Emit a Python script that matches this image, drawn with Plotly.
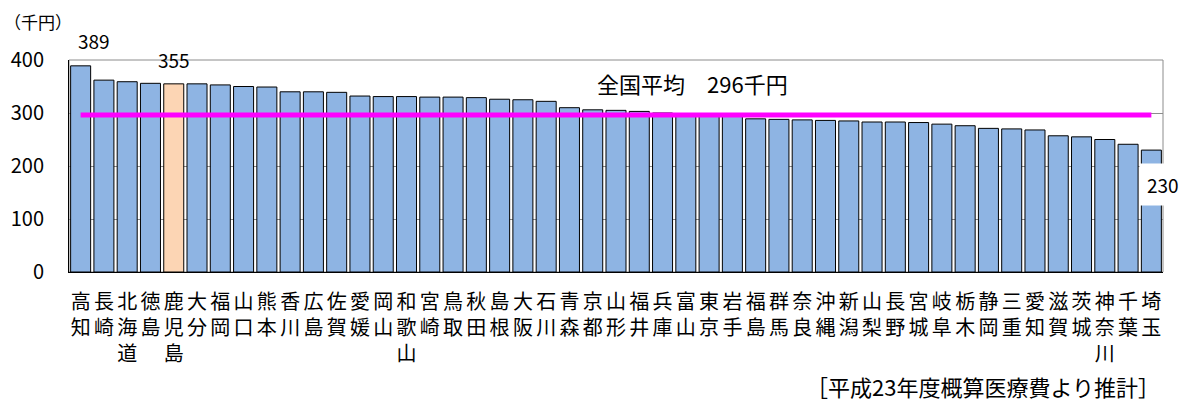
import plotly.graph_objects as go

prefectures = ["高知", "長崎", "北海道", "徳島", "鹿児島", "大分", "福岡", "山口", "熊本", "香川",
               "広島", "佐賀", "愛媛", "岡山", "和歌山", "宮崎", "鳥取", "秋田", "島根", "大阪",
               "石川", "青森", "京都", "山形", "福井", "兵庫", "富山", "東京", "岩手", "福島",
               "群馬", "奈良", "沖縄", "新潟", "山梨", "長野", "宮城", "岐阜", "栃木", "静岡",
               "三重", "愛知", "滋賀", "茨城", "神奈川", "千葉", "埼玉"]
values = [389, 362, 359, 356, 355, 355, 353, 350, 349, 340,
          340, 339, 332, 331, 331, 330, 330, 329, 326, 325,
          322, 310, 306, 305, 303, 300, 298, 296, 294, 289,
          288, 287, 286, 285, 283, 283, 282, 279, 276, 271,
          270, 268, 257, 255, 250, 241, 230]
highlight = "鹿児島"
national_avg = 296
y_ticks = [0, 100, 200, 300, 400]

FONT = "Noto Sans CJK JP"
W, H = 1184, 403
L, R, T, B = 69, 1163, 60, 272  # plot area in pixels

def px(x):
    return (x - L) / (R - L)

def py(y):
    return (B - y) / (B - T)

colors = ["#FCD5B4" if p == highlight else "#8EB4E3" for p in prefectures]
ticktext = ["<br>".join(list(p)) for p in prefectures]

fig = go.Figure()
fig.add_trace(go.Bar(
    x=prefectures, y=values,
    marker=dict(color=colors, line=dict(color="#000000", width=1)),
    showlegend=False, hoverinfo="x+y",
))
fig.add_trace(go.Scatter(
    x=[prefectures[0], prefectures[-1]], y=[national_avg, national_avg],
    mode="lines", line=dict(color="#FF00FF", width=5),
    showlegend=False, hoverinfo="skip",
))

# frame (top/right gray border)
fig.add_shape(type="rect", xref="paper", yref="paper", x0=0, x1=1, y0=0, y1=1,
              line=dict(color="#8C8C8C", width=1), layer="below")

annotations = [
    dict(x=prefectures[0], y=values[0], text=str(values[0]), showarrow=False,
         yanchor="bottom", xshift=13, yshift=10, font=dict(size=19, color="#000")),
    dict(x=highlight, y=values[prefectures.index(highlight)],
         text=str(values[prefectures.index(highlight)]), showarrow=False,
         yanchor="bottom", yshift=9, font=dict(size=19, color="#000")),
    dict(x=prefectures[-1], y=values[-1], text=str(values[-1]), showarrow=False,
         yanchor="middle", xshift=12, yshift=-34, bgcolor="#FFFFFF", borderpad=7,
         font=dict(size=19, color="#000")),
    dict(xref="paper", yref="paper", x=px(693), y=py(83),
         text=f"全国平均　{national_avg}千円", showarrow=False,
         xanchor="center", yanchor="middle", font=dict(size=22, color="#000")),
    dict(xref="paper", yref="paper", x=px(2), y=py(21), text="（千円）", showarrow=False,
         xanchor="left", yanchor="middle", font=dict(size=17, color="#000")),
    dict(xref="paper", yref="paper", x=px(1162), y=py(386),
         text="［平成23年度概算医療費より推計］", showarrow=False,
         xanchor="right", yanchor="middle", font=dict(size=22, color="#000")),
]

fig.update_layout(
    width=W, height=H,
    margin=dict(l=L, r=W - R, t=T, b=H - B, pad=0),
    paper_bgcolor="#FFFFFF", plot_bgcolor="#FFFFFF",
    font=dict(family=FONT, color="#000000"),
    bargap=0.14,
    annotations=annotations,
)
fig.update_xaxes(
    type="category", tickvals=prefectures, ticktext=ticktext,
    tickfont=dict(size=20, family=FONT), tickangle=0,
    showline=True, linecolor="#000000", linewidth=1,
    showgrid=False, ticks="", ticklabelstandoff=12,
    range=[-0.5, len(prefectures) - 0.5],
)
fig.update_yaxes(
    range=[0, 400], tickvals=y_ticks, ticktext=[str(v) for v in y_ticks],
    tickfont=dict(size=20, family=FONT),
    showline=True, linecolor="#000000", linewidth=1,
    showgrid=True, gridcolor="#8C8C8C", gridwidth=1,
    zeroline=False, ticks="", ticklabelstandoff=20,
)

fig.write_html("out.html")
